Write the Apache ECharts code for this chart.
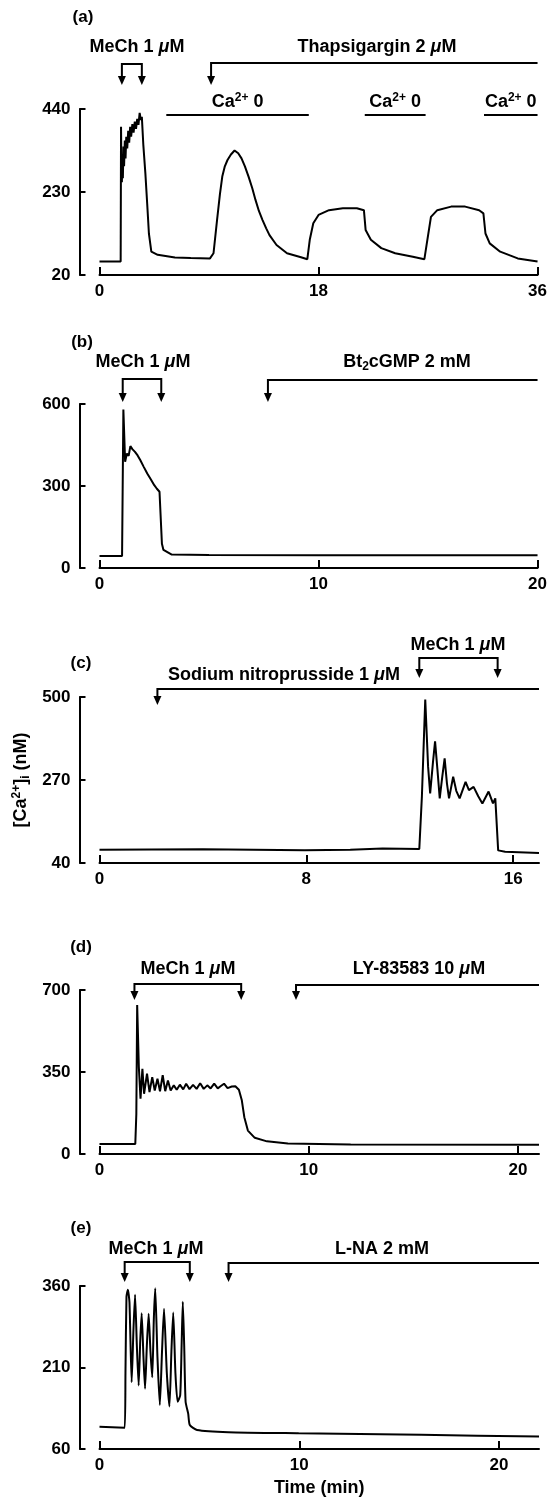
<!DOCTYPE html>
<html>
<head>
<meta charset="UTF-8">
<title>[Ca2+]i traces</title>
<script src="https://cdn.jsdelivr.net/npm/echarts/dist/echarts.min.js"></script>
</head>
<body style="margin:0;background:#fff">
<div id="container" style="width:550px;height:1498px;"></div>
<script type="text/javascript">
// (a) MeCh, then thapsigargin with Ca2+ removed three times
var timeA = [0, 1.0, 1.74, 1.77, 1.8, 1.84, 1.88, 1.92, 1.97, 2.02, 2.08, 2.14, 2.2, 2.28, 2.36, 2.44, 2.52, 2.6, 2.7, 2.8,
	2.9, 3.0, 3.1, 3.2, 3.3, 3.4, 3.48, 3.6, 3.77, 3.92, 4.06, 4.26, 4.78, 6.2, 7.5, 9.08, 9.37, 9.66, 9.9, 10.09,
	10.3, 10.52, 10.8, 11.1, 11.4, 11.67, 11.95, 12.25, 12.55, 12.82, 13.1, 13.4, 13.7, 13.97, 14.55, 15.41, 16.56, 17.08, 17.28, 17.57,
	18.0, 18.86, 20.0, 21.15, 21.73, 21.87, 22.3, 23.16, 24.3, 25.75, 26.7, 26.9, 27.24, 27.76, 28.9, 30.05, 31.2, 31.55, 31.72, 32.07,
	32.93, 34.37, 36];
var caA = [54, 54, 54, 395, 300, 255, 320, 265, 345, 295, 360, 315, 370, 340, 385, 355, 395, 370, 402, 380,
	408, 390, 415, 400, 430, 412, 420, 350, 277, 200, 125, 79, 71, 64, 63, 62, 75, 159, 225, 269,
	295, 311, 325, 335, 328, 315, 295, 269, 240, 210, 182, 159, 138, 121, 96, 75, 65, 60, 109, 151,
	172, 184, 189, 189, 184, 134, 109, 88, 75, 66, 60, 100, 167, 184, 193, 193, 184, 176, 125, 100,
	79, 62, 54];

// (b) MeCh, then Bt2cGMP
var timeB = [0, 1.03, 1.09, 1.17, 1.25, 1.33, 1.41, 1.5, 1.62, 1.74, 1.86, 2.02, 2.18, 2.34, 2.5, 2.62, 2.74, 2.82, 2.85, 2.92,
	2.98, 3.3, 5, 10, 15, 20];
var caB = [44, 44, 580, 389, 419, 410, 446, 435, 425, 412, 395, 370, 346, 325, 303, 290, 279, 273, 89, 66,
	59, 49, 48, 47, 47, 47];

// (c) sodium nitroprusside, then MeCh
var timeC = [0, 4, 7.93, 9.7, 10.95, 12.37, 12.47, 12.6, 12.71, 12.79, 12.9, 12.98, 13.07, 13.16, 13.26, 13.35, 13.44, 13.52, 13.68, 13.8,
	13.93, 14.16, 14.29, 14.47, 14.65, 14.81, 15.05, 15.22, 15.31, 15.38, 15.42, 15.69, 17];
var caC = [77, 78, 75, 77, 80, 79, 224, 493, 307, 233, 320, 377, 300, 219, 280, 330, 260, 219, 279, 240,
	219, 265, 242, 251, 225, 205, 238, 205, 219, 216, 75, 71, 68];

// (d) MeCh, then LY-83583
var timeD = [0, 1.71, 1.76, 1.8, 1.88, 1.96, 2.05, 2.13, 2.27, 2.39, 2.52, 2.64, 2.77, 2.89, 3.02, 3.14, 3.27, 3.4, 3.55, 3.69,
	3.84, 4.0, 4.14, 4.3, 4.47, 4.64, 4.81, 4.98, 5.15, 5.31, 5.48, 5.65, 5.8, 5.95, 6.12, 6.32, 6.49, 6.66, 6.8, 6.92,
	7.09, 7.42, 8.0, 9.0, 12, 21];
var caD = [43, 43, 171, 636, 371, 236, 364, 257, 343, 264, 328, 271, 321, 268, 336, 268, 314, 271, 293, 274,
	296, 276, 300, 277, 295, 278, 302, 278, 293, 280, 300, 280, 290, 300, 281, 288, 289, 274, 229, 157,
	100, 69, 54, 45, 41, 40];

// (e) MeCh, then L-NA
var timeE = [0, 1.26, 1.3, 1.35, 1.42, 1.5, 1.61, 1.7, 1.78, 1.87, 1.96, 2.04, 2.11, 2.2, 2.28, 2.37, 2.46, 2.55, 2.64, 2.72,
	2.79, 2.9, 3.02, 3.13, 3.23, 3.37, 3.5, 3.6, 3.69, 3.8, 3.91, 4.04, 4.11, 4.17, 4.24, 4.31, 4.44, 4.52, 4.88, 6.45,
	9.97, 16.1, 22];
var caE = [101, 99, 200, 340, 353, 330, 183, 280, 344, 250, 177, 260, 310, 230, 171, 250, 309, 240, 192, 300,
	356, 230, 141, 240, 318, 200, 138, 240, 311, 200, 147, 159, 250, 331, 250, 147, 125, 104, 95, 91,
	89, 86, 83];

// tick values
var xTicksA = [0, 18, 36], yTicksA = [20, 230, 440];
var xTicksB = [0, 10, 20], yTicksB = [0, 300, 600];
var xTicksC = [0, 8, 16], yTicksC = [40, 270, 500];
var xTicksD = [0, 10, 20], yTicksD = [0, 350, 700];
var xTicksE = [0, 10, 20], yTicksE = [60, 210, 360];

// drug application times (min)
var mechA = [1.84, 3.48], thapA = 9.17, caFreeA = [[5.49, 17.2], [21.8, 26.8], [31.6, 36]];
var mechB = [1.06, 2.82], btB = 7.69;
var snpC = 2.24, mechC = [12.37, 15.40];
var mechD = [1.67, 6.77], lyD = 9.39;
var mechE = [1.26, 4.52], lnaE = 6.46;

var FONT = 'Liberation Sans, Arial, Helvetica, sans-serif';
var panels = [
	{top: 109, bottom: 275, xMax: 36, xTicks: xTicksA, yMin: 20, yMax: 440, yTicks: yTicksA, t: timeA, v: caA, smooth: false},
	{top: 404, bottom: 568, xMax: 20, xTicks: xTicksB, yMin: 0, yMax: 600, yTicks: yTicksB, t: timeB, v: caB, smooth: false},
	{top: 697, bottom: 863, xMax: 17, xTicks: xTicksC, yMin: 40, yMax: 500, yTicks: yTicksC, t: timeC, v: caC, smooth: false},
	{top: 990, bottom: 1154, xMax: 21, xTicks: xTicksD, yMin: 0, yMax: 700, yTicks: yTicksD, t: timeD, v: caD, smooth: false},
	{top: 1286, bottom: 1452, xMax: 22, xTicks: xTicksE, yMin: 60, yMax: 360, yTicks: yTicksE, t: timeE, v: caE, smooth: 0.2}
];

var labelStyle = {color: '#000', fontFamily: FONT, fontWeight: 'bold', fontSize: 17};
var grids = [], xAxes = [], yAxes = [], series = [];
panels.forEach(function (p, i) {
	grids.push({left: 99.5, right: 11, top: p.top, height: p.bottom - p.top});
	xAxes.push({
		gridIndex: i, type: 'value', min: 0, max: p.xMax,
		axisLine: {show: true, onZero: false, lineStyle: {color: '#000', width: 2}},
		axisTick: {show: true, inside: true, length: 8, customValues: p.xTicks, lineStyle: {color: '#000', width: 2}},
		axisLabel: Object.assign({customValues: p.xTicks, margin: 8}, labelStyle),
		splitLine: {show: false}
	});
	yAxes.push({
		gridIndex: i, type: 'value', min: p.yMin, max: p.yMax, offset: 20,
		axisLine: {show: true, onZero: false, lineStyle: {color: '#000', width: 2}},
		axisTick: {show: true, inside: true, length: 6, customValues: p.yTicks, lineStyle: {color: '#000', width: 2}},
		axisLabel: Object.assign({customValues: p.yTicks, margin: 9}, labelStyle),
		splitLine: {show: false}
	});
	var pts = [];
	for (var k = 0; k < Math.min(p.t.length, p.v.length); k++) pts.push([p.t[k], p.v[k]]);
	series.push({
		type: 'line', xAxisIndex: i, yAxisIndex: i, data: pts,
		showSymbol: false, symbol: 'none', smooth: p.smooth,
		lineStyle: {color: '#000', width: 2}
	});
});

var nameRich = {
	sup: {color: '#000', fontFamily: FONT, fontWeight: 'bold', fontSize: 12, padding: [0, 0, 9, 0]},
	sub: {color: '#000', fontFamily: FONT, fontWeight: 'bold', fontSize: 12, padding: [9, 0, 0, 0]}
};
Object.assign(yAxes[2], {
	name: '[Ca{sup|2+}]{sub|i} (nM)', nameLocation: 'middle', nameRotate: 90, nameGap: 45,
	nameTextStyle: {color: '#000', fontFamily: FONT, fontWeight: 'bold', fontSize: 18, rich: nameRich}
});
Object.assign(xAxes[4], {
	name: 'Time (min)', nameLocation: 'middle', nameGap: 30,
	nameTextStyle: {color: '#000', fontFamily: FONT, fontWeight: 'bold', fontSize: 18}
});

var dom = document.getElementById('container');
var myChart = echarts.init(dom);
myChart.setOption({
	animation: false,
	backgroundColor: '#fff',
	grid: grids, xAxis: xAxes, yAxis: yAxes, series: series
});

// annotations: brackets, arrows, labels
function px(g, t) {
	return myChart.convertToPixel({gridIndex: g}, [t, panels[g].yMin])[0];
}
var richG = {
	mu: {fill: '#000', fontFamily: FONT, fontWeight: 'bold', fontStyle: 'italic', fontSize: 18},
	sup: {fill: '#000', fontFamily: FONT, fontWeight: 'bold', fontSize: 12, padding: [0, 0, 9, 0]},
	sub: {fill: '#000', fontFamily: FONT, fontWeight: 'bold', fontSize: 12, padding: [9, 0, 0, 0]}
};
var gfx = [];
var LINE = {stroke: '#000', lineWidth: 2, fill: null, lineJoin: 'miter'};
function text(x, y, s, size) {
	gfx.push({type: 'text', x: x, y: y, style: {
		text: s, fill: '#000', fontFamily: FONT, fontWeight: 'bold', fontSize: size || 18,
		align: 'center', verticalAlign: 'middle', rich: richG
	}});
}
function head(x, tip) {
	gfx.push({type: 'polygon', shape: {points: [[x - 4, tip - 9], [x + 4, tip - 9], [x, tip]]}, style: {fill: '#000'}});
}
function bracket(g, ts, topY, tipY) {
	var x1 = px(g, ts[0]), x2 = px(g, ts[1]);
	gfx.push({type: 'polyline', shape: {points: [[x1, tipY - 8], [x1, topY], [x2, topY], [x2, tipY - 8]]}, style: LINE});
	head(x1, tipY); head(x2, tipY);
}
function onset(g, t, topY, tipY) {
	var x = px(g, t), xe = px(g, panels[g].xMax);
	gfx.push({type: 'polyline', shape: {points: [[x, tipY - 8], [x, topY], [xe, topY]]}, style: LINE});
	head(x, tipY);
}
function bar(g, ts, y, lbl, lblY) {
	var x1 = px(g, ts[0]), x2 = px(g, ts[1]);
	gfx.push({type: 'line', shape: {x1: x1, y1: y, x2: x2, y2: y}, style: LINE});
	text((x1 + x2) / 2, lblY, lbl);
}

var MECH = 'MeCh 1 {mu|μ}M';
// (a)
text(83, 17, '(a)', 17);
text(137, 47, MECH);
text(377, 47, 'Thapsigargin 2 {mu|μ}M');
bracket(0, mechA, 64, 85);
onset(0, thapA, 63, 85);
caFreeA.forEach(function (r) { bar(0, r, 115, 'Ca{sup|2+} 0', 102); });
// (b)
text(82, 342, '(b)', 17);
text(143, 362, MECH);
text(407, 362, 'Bt{sub|2}cGMP 2 mM');
bracket(1, mechB, 379, 402);
onset(1, btB, 380, 402);
// (c)
text(81, 663, '(c)', 17);
text(284, 675, 'Sodium nitroprusside 1 {mu|μ}M');
text(458, 645, MECH);
onset(2, snpC, 689, 705);
bracket(2, mechC, 658, 678);
// (d)
text(81, 947, '(d)', 17);
text(188, 969, MECH);
text(419, 969, 'LY-83583 10 {mu|μ}M');
bracket(3, mechD, 984, 1000);
onset(3, lyD, 985, 1000);
// (e)
text(81, 1228, '(e)', 17);
text(156, 1249, MECH);
text(382, 1249, 'L-NA 2 mM');
bracket(4, mechE, 1262, 1282);
onset(4, lnaE, 1263, 1282);

myChart.setOption({graphic: gfx});
</script>
</body>
</html>
